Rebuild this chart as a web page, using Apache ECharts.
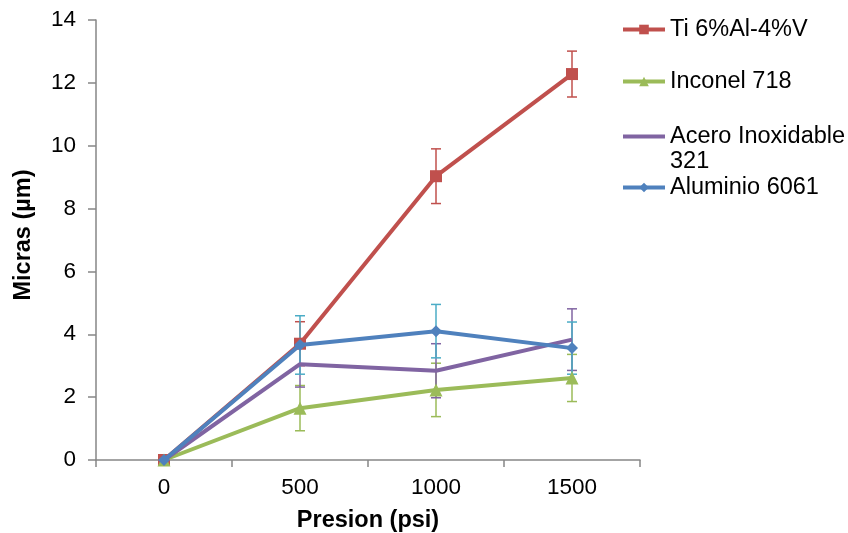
<!DOCTYPE html>
<html><head><meta charset="utf-8">
<script src="https://cdn.jsdelivr.net/npm/echarts@6/dist/echarts.min.js"></script>
<style>html,body{margin:0;padding:0;background:#fff}#c{width:848px;height:533px}</style>
</head><body><div id="c"></div>
<script>
const categories = ['0', '500', '1000', '1500'];
const yTicks = [0, 2, 4, 6, 8, 10, 12, 14];
const seriesNames = ['Ti 6%Al-4%V', 'Inconel 718', 'Acero Inoxidable 321', 'Aluminio 6061'];
const tiValues = [0, 3.7, 9.03, 12.28];
const tiErrors = [0, 0.7, 0.87, 0.73];
const inconelValues = [0, 1.65, 2.23, 2.61];
const inconelErrors = [0, 0.72, 0.85, 0.75];
const aceroValues = [0, 3.05, 2.84, 3.83];
const aceroErrors = [0, 0.73, 0.86, 0.98];
const aluminioValues = [0, 3.66, 4.1, 3.56];
const aluminioErrors = [0, 0.93, 0.85, 0.83];

const FONT = 'Liberation Sans, Arial, sans-serif';
const lineColors = ['#C0504D', '#9BBB59', '#8064A2', '#4F81BD'];
const errColors = ['#C0504D', '#9BBB59', '#8064A2', '#4BACC6'];
const symbols = ['rect', 'triangle', 'none', 'diamond'];
const symbolSizes = [12, 13, 0, 12];
const allValues = [tiValues, inconelValues, aceroValues, aluminioValues];
const allErrors = [tiErrors, inconelErrors, aceroErrors, aluminioErrors];

function errorSeries(k) {
  const data = allValues[k].map((v, i) => [i, v - allErrors[k][i], v + allErrors[k][i], allErrors[k][i]])
    .filter(d => d[3] > 0);
  return {
    type: 'custom', name: seriesNames[k] + ' err', z: 1, silent: true,
    data: data,
    renderItem: function (params, api) {
      const lo = api.coord([api.value(0), api.value(1)]);
      const hi = api.coord([api.value(0), api.value(2)]);
      const hw = 5;
      const st = { stroke: errColors[k], lineWidth: 1.5 };
      return { type: 'group', children: [
        { type: 'line', shape: { x1: hi[0], y1: hi[1], x2: lo[0], y2: lo[1] }, style: st },
        { type: 'line', shape: { x1: hi[0] - hw, y1: hi[1], x2: hi[0] + hw, y2: hi[1] }, style: st },
        { type: 'line', shape: { x1: lo[0] - hw, y1: lo[1], x2: lo[0] + hw, y2: lo[1] }, style: st }
      ]};
    }
  };
}

const lineSeries = seriesNames.map((n, k) => ({
  type: 'line', name: n, data: allValues[k], z: 3 + k,
  symbol: symbols[k], symbolSize: symbolSizes[k], showSymbol: symbols[k] !== 'none',
  lineStyle: { color: lineColors[k], width: 4 },
  itemStyle: { color: lineColors[k] },
  emphasis: { disabled: true }, animation: false
}));

const legendTops = [12, 64, 94, 170];
const legends = seriesNames.map((n, k) => ({
  data: [k === 2 ? { name: n, itemStyle: { opacity: 0 } } : n],
  left: 616, top: legendTops[k], orient: 'vertical',
  itemWidth: 42, itemHeight: 12, selectedMode: false,
  lineStyle: { width: 4 },
  formatter: k === 2 ? ' \nAcero Inoxidable\n321' : '{name}',
  textStyle: { fontFamily: FONT, fontSize: 23.5, color: '#000', lineHeight: 25 }
}));

const chart = echarts.init(document.getElementById('c'), null, { renderer: 'canvas' });
chart.setOption({
  animation: false,
  backgroundColor: '#fff',
  legend: legends,
  grid: { left: 96, right: 208, top: 20, bottom: 73, containLabel: false, outerBoundsMode: 'none' },
  xAxis: {
    type: 'category', data: categories, boundaryGap: true,
    name: 'Presion (psi)', nameLocation: 'middle', nameGap: 49,
    nameTextStyle: { fontFamily: FONT, fontSize: 23.5, fontWeight: 'bold', color: '#000' },
    axisLine: { lineStyle: { color: '#868686', width: 1.5 } },
    axisTick: { show: true, length: 7, alignWithLabel: false, lineStyle: { color: '#868686', width: 1.5 } },
    axisLabel: { fontFamily: FONT, fontSize: 22.5, color: '#000', margin: 16 },
    splitLine: { show: false }
  },
  yAxis: {
    type: 'value', min: yTicks[0], max: yTicks[yTicks.length - 1], interval: 2,
    name: 'Micras (µm)', nameLocation: 'middle', nameGap: 60, nameRotate: 90,
    nameTextStyle: { fontFamily: FONT, fontSize: 23.5, fontWeight: 'bold', color: '#000', padding: [0, 0, 0, 10] },
    axisLine: { show: true, lineStyle: { color: '#868686', width: 1.5 } },
    axisTick: { show: true, length: 8, lineStyle: { color: '#868686', width: 1.5 } },
    axisLabel: { fontFamily: FONT, fontSize: 22.5, color: '#000', margin: 20 },
    splitLine: { show: false }
  },
  series: [0, 1, 2, 3].map(errorSeries).concat(lineSeries)
});
</script></body></html>
